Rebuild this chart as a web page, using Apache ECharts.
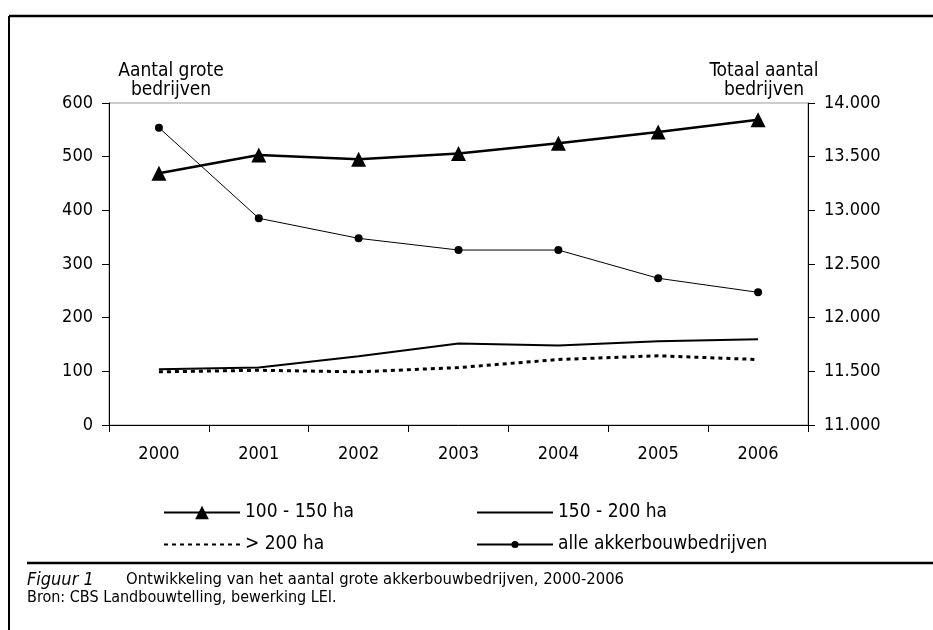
<!DOCTYPE html>
<html>
<head>
<meta charset="utf-8">
<script src="https://cdn.jsdelivr.net/npm/echarts@6/dist/echarts.min.js"></script>
<style>
  html, body { margin: 0; padding: 0; background: #fff; }
  #chart { width: 933px; height: 630px; }
</style>
</head>
<body>
<div id="chart"></div>
<script>
// jaren en reeksen
const years = ['2000', '2001', '2002', '2003', '2004', '2005', '2006']
const ha100_150 = [469, 503, 495, 506, 525, 546, 569]
const ha150_200 = [104, 107, 128, 152, 148, 156, 160]
const ha200plus = [99, 102, 99, 107, 122, 129, 122]
const alleBedrijven = [13770, 12926, 12739, 12630, 12630, 12367, 12236]

const FONT = "'DejaVu Sans Condensed', 'Liberation Sans Narrow', sans-serif"

const chart = echarts.init(document.getElementById('chart'))

// lijn zonder symbool in de legenda
const noSymbol = { color: 'rgba(0,0,0,0)', borderWidth: 0 }

const option = {
  animation: false,
  backgroundColor: '#fff',
  textStyle: { fontFamily: FONT, color: '#000' },
  grid: {
    left: 109, right: 125, top: 103, bottom: 205,
    show: true, borderColor: '#999', borderWidth: 1
  },
  legend: [
    {
      data: ['100 - 150 ha', { name: '> 200 ha', itemStyle: noSymbol }],
      orient: 'vertical', left: 158, top: 498,
      itemWidth: 76, itemHeight: 17, itemGap: 13,
      textStyle: { fontFamily: FONT, fontSize: 19, color: '#000' }
    },
    {
      data: [{ name: '150 - 200 ha', itemStyle: noSymbol }, 'alle akkerbouwbedrijven'],
      orient: 'vertical', left: 471, top: 498,
      itemWidth: 76, itemHeight: 9, itemGap: 13,
      textStyle: { fontFamily: FONT, fontSize: 19, color: '#000' }
    }
  ],
  xAxis: {
    type: 'category',
    data: years,
    boundaryGap: true,
    axisLine: { lineStyle: { color: '#000', width: 1 } },
    axisTick: { show: true, length: 7, inside: false, lineStyle: { color: '#000' } },
    axisLabel: { fontFamily: FONT, fontSize: 18, color: '#000', margin: 20 }
  },
  yAxis: [
    {
      type: 'value', min: 0, max: 600, interval: 100,
      splitLine: { show: false },
      axisLine: { show: true, lineStyle: { color: '#000' } },
      axisTick: { show: true, length: 7, lineStyle: { color: '#000' } },
      axisLabel: { fontFamily: FONT, fontSize: 18, color: '#000', margin: 16 }
    },
    {
      type: 'value', min: 11000, max: 14000, interval: 500,
      position: 'right',
      splitLine: { show: false },
      axisLine: { show: true, lineStyle: { color: '#000' } },
      axisTick: { show: true, length: 7, lineStyle: { color: '#000' } },
      axisLabel: {
        fontFamily: FONT, fontSize: 18, color: '#000', margin: 16,
        formatter: v => String(v).replace(/\B(?=(\d{3})+(?!\d))/g, '.')
      }
    }
  ],
  series: [
    {
      name: '100 - 150 ha', type: 'line', data: ha100_150,
      symbol: 'triangle', symbolSize: 15,
      itemStyle: { color: '#000' },
      lineStyle: { color: '#000', width: 2.5 }
    },
    {
      name: '150 - 200 ha', type: 'line', data: ha150_200,
      symbol: 'none',
      itemStyle: { color: '#000' },
      lineStyle: { color: '#000', width: 2 }
    },
    {
      name: '> 200 ha', type: 'line', data: ha200plus,
      symbol: 'none',
      itemStyle: { color: '#000' },
      lineStyle: { color: '#000', width: 3, type: [4, 4] }
    },
    {
      name: 'alle akkerbouwbedrijven', type: 'line', data: alleBedrijven,
      yAxisIndex: 1,
      symbol: 'circle', symbolSize: 8,
      itemStyle: { color: '#000' },
      lineStyle: { color: '#000', width: 1 }
    }
  ],
  graphic: [
    // kader
    { type: 'line', shape: { x1: 9, y1: 16, x2: 933, y2: 16 }, style: { stroke: '#000', lineWidth: 2.5 } },
    { type: 'line', shape: { x1: 9, y1: 16, x2: 9, y2: 630 }, style: { stroke: '#000', lineWidth: 2 } },
    { type: 'line', shape: { x1: 27, y1: 563, x2: 933, y2: 563 }, style: { stroke: '#000', lineWidth: 2.5 } },
    // astitels
    {
      type: 'text', x: 171, y: 62,
      style: { text: 'Aantal grote\nbedrijven', align: 'center', font: '19px ' + FONT, fill: '#000', lineHeight: 19 }
    },
    {
      type: 'text', x: 764, y: 62,
      style: { text: 'Totaal aantal\nbedrijven', align: 'center', font: '19px ' + FONT, fill: '#000', lineHeight: 19 }
    },
    // bijschrift
    {
      type: 'text', x: 27, y: 571,
      style: { text: 'Figuur 1', font: 'italic 18px ' + FONT, fill: '#000' }
    },
    {
      type: 'text', x: 126, y: 571,
      style: { text: 'Ontwikkeling van het aantal grote akkerbouwbedrijven, 2000-2006', font: '16.5px ' + FONT, fill: '#000' }
    },
    {
      type: 'text', x: 27, y: 590,
      style: { text: 'Bron: CBS Landbouwtelling, bewerking LEI.', font: '16px ' + FONT, fill: '#000' }
    }
  ]
}

chart.setOption(option)
</script>
</body>
</html>
